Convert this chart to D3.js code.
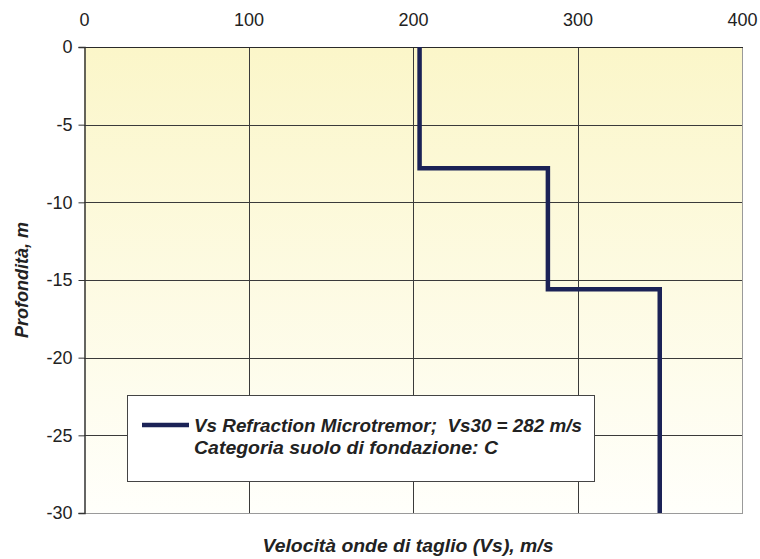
<!DOCTYPE html>
<html>
<head>
<meta charset="utf-8">
<script src="https://cdn.jsdelivr.net/npm/d3@7/dist/d3.min.js"></script>
<style>
  html, body { margin: 0; padding: 0; background: #fff; }
  svg { display: block; font-family: "Liberation Sans", Arial, sans-serif; }
</style>
</head>
<body>
<svg id="chart" width="760" height="559"></svg>
<script>
// Shear-wave velocity profile (layer velocities and layer boundaries)
const layerVs = [204, 282, 350];          // m/s
const layerTop = [0, -7.8, -15.6];        // m
const layerBottom = [-7.8, -15.6, -30];   // m
const xTicks = [0, 100, 200, 300, 400];
const yTicks = [0, -5, -10, -15, -20, -25, -30];
const legendLines = ["Vs Refraction Microtremor;  Vs30 = 282 m/s", "Categoria suolo di fondazione: C"];
const xTitle = "Velocità onde di taglio (Vs), m/s";
const yTitle = "Profondità, m";

const FONT = "'Liberation Sans', Arial, sans-serif";
const svg = d3.select("#chart");
const plot = { left: 84, top: 47, right: 742, bottom: 513 };

const x = d3.scaleLinear().domain([0, 400]).range([plot.left, plot.right]);
const y = d3.scaleLinear().domain([0, -30]).range([plot.top, plot.bottom]);
const fmt = d => String(d);   // plain hyphen for negatives

// background gradient of the plot area
const defs = svg.append("defs");
const grad = defs.append("linearGradient").attr("id", "bg").attr("x1", 0).attr("y1", 0).attr("x2", 0).attr("y2", 1);
grad.append("stop").attr("offset", "0%").attr("stop-color", "#fbf6c9");
grad.append("stop").attr("offset", "100%").attr("stop-color", "#fffffb");

svg.append("rect")
  .attr("x", plot.left).attr("y", plot.top)
  .attr("width", plot.right - plot.left).attr("height", plot.bottom - plot.top)
  .attr("fill", "url(#bg)");

// grid lines
const grid = svg.append("g").attr("stroke", "#3a3a3a").attr("stroke-width", 1).attr("shape-rendering", "crispEdges");
grid.selectAll("line.v").data(xTicks.slice(1, -1)).join("line")
  .attr("x1", d => Math.round(x(d)) + 0.5).attr("x2", d => Math.round(x(d)) + 0.5)
  .attr("y1", plot.top).attr("y2", plot.bottom);
grid.selectAll("line.h").data(yTicks.slice(1, -1)).join("line")
  .attr("y1", d => Math.round(y(d)) + 0.5).attr("y2", d => Math.round(y(d)) + 0.5)
  .attr("x1", plot.left).attr("x2", plot.right);

// plot frame: dark top/left, grey right/bottom
const frame = svg.append("g").attr("shape-rendering", "crispEdges");
frame.append("line").attr("x1", plot.right + 0.5).attr("x2", plot.right + 0.5).attr("y1", plot.top).attr("y2", plot.bottom + 1)
  .attr("stroke", "#9a9a9a").attr("stroke-width", 1.5);
frame.append("line").attr("x1", plot.left).attr("x2", plot.right + 1).attr("y1", plot.bottom + 0.5).attr("y2", plot.bottom + 0.5)
  .attr("stroke", "#9a9a9a").attr("stroke-width", 1.5);
frame.append("line").attr("x1", plot.left).attr("x2", plot.right + 1).attr("y1", plot.top + 0.5).attr("y2", plot.top + 0.5)
  .attr("stroke", "#2a2a2a").attr("stroke-width", 1.5);

// top x axis (labels only)
const xAxis = d3.axisTop(x).tickValues(xTicks).tickSize(0).tickPadding(0).tickFormat(fmt);
const gx = svg.append("g").attr("transform", `translate(0,${plot.top - 21})`).call(xAxis);
gx.select(".domain").remove();
gx.selectAll("text").attr("font-size", 18).attr("fill", "#222").attr("dy", 0)
  .attr("font-family", FONT);

// left y axis
const yAxis = d3.axisLeft(y).tickValues(yTicks).tickSize(6).tickPadding(6).tickFormat(fmt);
const gy = svg.append("g").attr("transform", `translate(${plot.left + 0.5},0)`).call(yAxis);
gy.select(".domain").attr("stroke", "#333").attr("stroke-width", 1.5);
gy.selectAll(".tick line").attr("stroke", "#333");
gy.selectAll("text").attr("font-size", 18).attr("fill", "#222")
  .attr("font-family", FONT);

// step profile
const pts = [];
layerVs.forEach((v, i) => { pts.push([v, layerTop[i]]); pts.push([v, layerBottom[i]]); });
const line = d3.line().x(d => x(d[0])).y(d => y(d[1]));
svg.append("path").datum(pts)
  .attr("d", line)
  .attr("fill", "none")
  .attr("stroke", "#1b2256")
  .attr("stroke-width", 4.5)
  .attr("stroke-linejoin", "miter");

// legend box
const lg = svg.append("g");
lg.append("rect").attr("x", 127.5).attr("y", 395.5).attr("width", 467).attr("height", 86)
  .attr("fill", "#fff").attr("stroke", "#444").attr("stroke-width", 1);
lg.append("line").attr("x1", 142).attr("x2", 189).attr("y1", 425).attr("y2", 425)
  .attr("stroke", "#1b2256").attr("stroke-width", 4.5);
const legendWidths = [388, 304];
lg.selectAll("text").data(legendLines).join("text")
  .attr("x", 194).attr("y", (d, i) => 432 + i * 21.5)
  .attr("font-size", 17.5).attr("font-weight", "bold").attr("font-style", "italic")
  .attr("font-family", FONT)
  .attr("fill", "#222")
  .style("white-space", "pre")
  .attr("textLength", (d, i) => legendWidths[i])
  .attr("lengthAdjust", "spacingAndGlyphs")
  .text(d => d);

// axis titles
svg.append("text")
  .attr("x", 408).attr("y", 552)
  .attr("text-anchor", "middle")
  .attr("font-size", 19).attr("font-weight", "bold").attr("font-style", "italic").attr("fill", "#222")
  .attr("font-family", FONT)
  .attr("textLength", 291).attr("lengthAdjust", "spacingAndGlyphs")
  .text(xTitle);
svg.append("text")
  .attr("transform", `translate(28,280) rotate(-90)`)
  .attr("text-anchor", "middle")
  .attr("font-size", 18).attr("font-weight", "bold").attr("font-style", "italic").attr("fill", "#222")
  .attr("font-family", FONT)
  .text(yTitle);
</script>
</body>
</html>
